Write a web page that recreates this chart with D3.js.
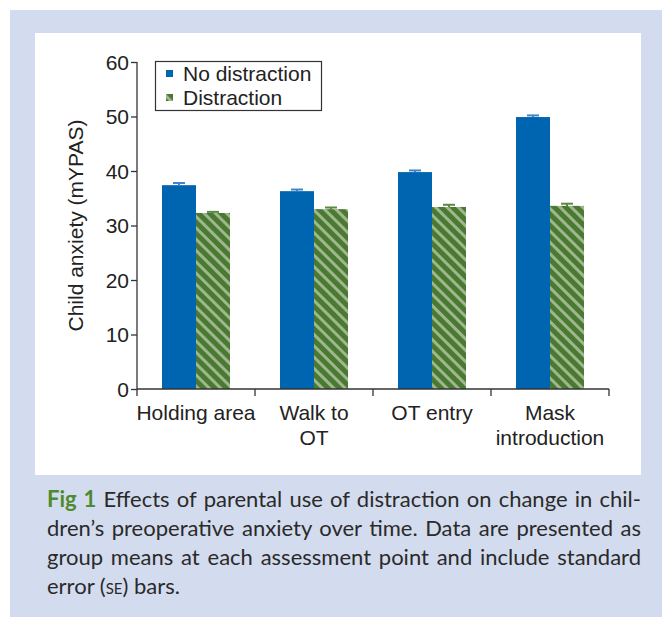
<!DOCTYPE html>
<html><head><meta charset="utf-8">
<script src="https://cdn.jsdelivr.net/npm/d3@7"></script>
<style>
body{margin:0;padding:0;background:#fff;}
svg{display:block;}
</style></head>
<body>
<svg id="c" width="662" height="617"></svg>
<script>
const categories = [["Holding area"], ["Walk to", "OT"], ["OT entry"], ["Mask", "introduction"]];
const seriesNames = ["No distraction", "Distraction"];
const noDistraction = [37.4, 36.3, 39.8, 49.9];
const distraction = [32.3, 33.0, 33.4, 33.6];
const seNo = [0.4, 0.3, 0.3, 0.3];
const seDis = [0.2, 0.3, 0.4, 0.4];
const yTicks = [0, 10, 20, 30, 40, 50, 60];
const captionLines = [
  ["Fig 1", " Effects of parental use of distraction on change in chil-"],
  ["", "dren\u2019s preoperative anxiety over time. Data are presented as"],
  ["", "group means at each assessment point and include standard"],
  ["", "error (", "SE", ") bars."]
];

const svg = d3.select("#c");
svg.append("rect").attr("x",10).attr("y",10).attr("width",652).attr("height",607).attr("fill","#d3dcee");
svg.append("rect").attr("x",35).attr("y",33).attr("width",606).attr("height",442).attr("fill","#fff");

const defs = svg.append("defs");
const pat = defs.append("pattern").attr("id","hatch").attr("patternUnits","userSpaceOnUse")
  .attr("width",8).attr("height",8).attr("patternTransform","rotate(-45)");
pat.append("rect").attr("width",8).attr("height",8).attr("fill","#4a7a31");
pat.append("rect").attr("x",0).attr("width",3).attr("height",8).attr("fill","#9fb68e");

const x0 = 137, x1 = 609, yTop = 62, yBot = 389;
const x = d3.scaleBand().domain(d3.range(categories.length)).range([x0, x1]).paddingInner(0).paddingOuter(0);
const y = d3.scaleLinear().domain([0, 60]).range([yBot, yTop]);
const barW = 34;
const font = "'Liberation Sans', Arial, sans-serif";
const fs = 21;

const g = svg.append("g");
const groups = [
  {vals: noDistraction, se: seNo, fill: "#0065b1", err: "#3f86c9", off: -barW},
  {vals: distraction, se: seDis, fill: "url(#hatch)", err: "#5a8a40", off: 0}
];
groups.forEach(s => {
  s.vals.forEach((v, i) => {
    const bx = x(i) + x.bandwidth()/2 + s.off;
    g.append("rect").attr("x", bx).attr("y", y(v)).attr("width", barW).attr("height", y(0) - y(v)).attr("fill", s.fill);
    const mx = bx + barW/2;
    const top = y(v + s.se[i]);
    g.append("line").attr("x1", mx).attr("x2", mx).attr("y1", top).attr("y2", y(v)).attr("stroke", s.err).attr("stroke-width", 2);
    g.append("line").attr("x1", mx - 6).attr("x2", mx + 6).attr("y1", top).attr("y2", top).attr("stroke", s.err).attr("stroke-width", 2);
  });
});

// y axis
const ya = svg.append("g").attr("transform", `translate(${x0},0)`)
  .call(d3.axisLeft(y).tickValues(yTicks).tickSize(6).tickPadding(2));
ya.select(".domain").attr("stroke","#333").attr("stroke-width",1.3).attr("d", `M0,${yTop}V${yBot}`);
ya.selectAll(".tick line").attr("stroke","#333").attr("stroke-width",1.3);
ya.selectAll(".tick text").attr("font-family", font).attr("font-size", fs).attr("fill","#222").attr("dy","0.35em");

// x axis
const xa = svg.append("g").attr("transform", `translate(0,${yBot})`);
xa.append("line").attr("x1", x0).attr("x2", x1).attr("stroke","#333").attr("stroke-width",1.3);
const tickPos = d3.range(categories.length + 1).map(i => i < categories.length ? x(i) : x1);
tickPos.forEach(p => xa.append("line").attr("x1", p).attr("x2", p).attr("y1", 0).attr("y2", 7).attr("stroke","#333").attr("stroke-width",1.3));
categories.forEach((lines, i) => {
  const cx = x(i) + x.bandwidth()/2;
  const t = xa.append("text").attr("x", cx).attr("y", 31).attr("text-anchor","middle")
    .attr("font-family", font).attr("font-size", fs).attr("fill","#222");
  lines.forEach((l, j) => t.append("tspan").attr("x", cx).attr("dy", j === 0 ? 0 : 24.5).text(l));
});

// y label
svg.append("text").attr("transform", `translate(83,${(yTop+yBot)/2}) rotate(-90)`).attr("text-anchor","middle")
  .attr("font-family", font).attr("font-size", fs).attr("fill","#222").text("Child anxiety (mYPAS)");

// legend
const lg = svg.append("g");
lg.append("rect").attr("x",155.5).attr("y",61.5).attr("width",166).attr("height",49).attr("fill","#fff").attr("stroke","#333").attr("stroke-width",1.2);
["#0065b1", "url(#hatch)"].forEach((c, i) => {
  lg.append("rect").attr("x",166).attr("y",70 + i*24).attr("width",7).attr("height",7).attr("fill", c);
  lg.append("text").attr("x",183).attr("y",81 + i*24).attr("font-family", font).attr("font-size", fs).attr("fill","#222").text(seriesNames[i]);
});

// caption
const capFont = "Lato, 'Open Sans', sans-serif";
const capY = [507, 536, 565, 594];
const capW = 594;
captionLines.forEach((ln, i) => {
  const t = svg.append("text").attr("x", 47).attr("y", capY[i]).attr("font-family", capFont).attr("font-size", 22).attr("fill","#2a2a2a");
  if (i === 0) {
    t.append("tspan").attr("font-weight","bold").attr("fill","#4e8a2e").text(ln[0]);
    t.append("tspan").text(ln[1]);
  } else if (i === 3) {
    t.append("tspan").text(ln[1]);
    t.append("tspan").attr("font-size", 15).text(ln[2]);
    t.append("tspan").text(ln[3]);
  } else {
    t.append("tspan").text(ln[1]);
  }
  if (i < 3) {
    const w = t.node().getComputedTextLength();
    const full = ln.join("");
    const spaces = (full.match(/ /g) || []).length;
    if (w < capW && spaces > 0) t.attr("word-spacing", (capW - w) / spaces);
    else if (w > capW) t.attr("textLength", capW).attr("lengthAdjust","spacingAndGlyphs");
  }
});
</script>
</body></html>
